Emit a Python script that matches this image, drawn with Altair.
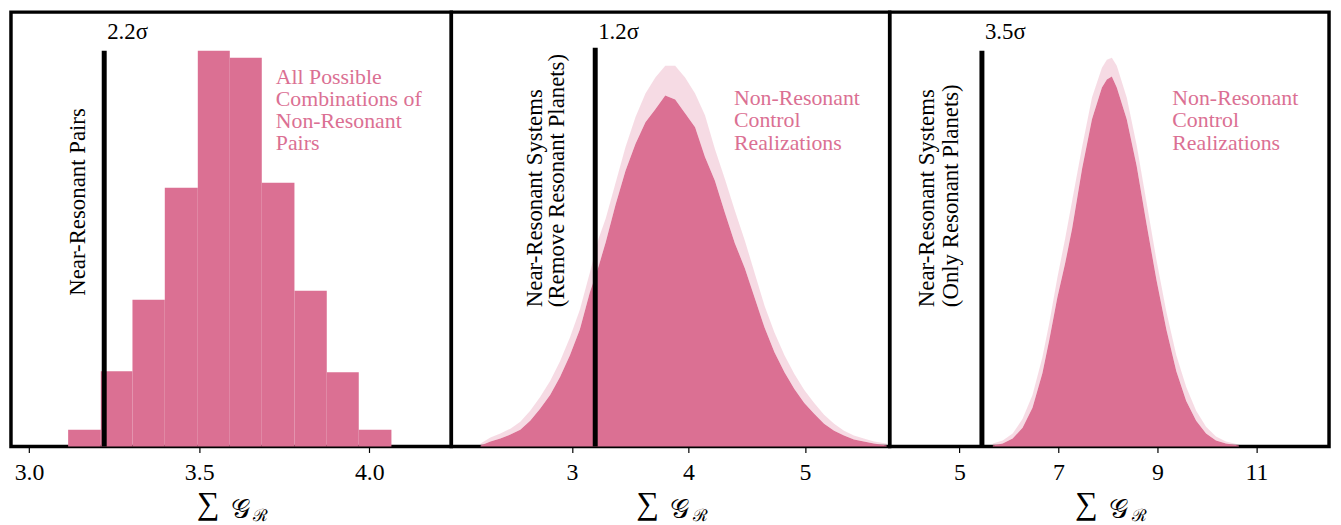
import altair as alt
import pandas as pd

PINK = "#DB7093"
FONT = "Liberation Serif"
H = 438

# ---------------- data ----------------
# Panel 1: all possible combinations of non-resonant pairs (histogram, 10 bins)
p1_bin_start = [3.115, 3.211, 3.304, 3.399, 3.496, 3.590, 3.684, 3.780, 3.875, 3.969]
p1_bin_end = [3.211, 3.304, 3.399, 3.496, 3.590, 3.684, 3.780, 3.875, 3.969, 4.065]
p1_counts = [17, 76, 148, 261, 399, 392, 266, 157, 75, 17]

# Panel 2: non-resonant control realizations (remove resonant planets)
p2_x = [2.216, 2.301, 2.386, 2.472, 2.557, 2.642, 2.727, 2.813, 2.898, 2.983,
        3.068, 3.153, 3.230, 3.290, 3.375, 3.460, 3.545, 3.631, 3.716, 3.801,
        3.886, 3.971, 4.057, 4.142, 4.227, 4.312, 4.398, 4.483, 4.568, 4.653,
        4.738, 4.824, 4.909, 4.994, 5.079, 5.164, 5.250, 5.335, 5.420, 5.505,
        5.591, 5.701]
p2_h = [1, 5, 8, 12, 17, 26, 38, 52, 70, 92,
        118, 155, 182, 206, 244, 278, 305, 327, 340, 354,
        350, 336, 322, 292, 268, 236, 205, 180, 150, 120,
        95, 75, 58, 44, 33, 23, 16, 11, 7, 5,
        3, 1]
p2_spike = [3, 9, 13, 18, 25, 36, 50, 66, 86, 110,
            138, 175, 210, 230, 266, 302, 332, 356, 372, 384,
            384, 372, 356, 334, 300, 270, 238, 208, 175, 142,
            115, 92, 73, 57, 44, 32, 23, 16, 11, 8,
            5, 3]

# Panel 3: non-resonant control realizations (only resonant planets)
p3_x = [5.675, 5.876, 6.076, 6.277, 6.477, 6.677, 6.818, 6.978, 7.138, 7.279,
        7.479, 7.679, 7.880, 7.980, 8.080, 8.180, 8.381, 8.581, 8.782, 8.982,
        9.182, 9.383, 9.583, 9.784, 9.984, 10.184, 10.385, 10.646]
p3_h = [1, 3, 8, 19, 39, 74, 108, 150, 185, 220,
        280, 330, 362, 370, 373, 362, 330, 283, 224, 168,
        118, 76, 46, 26, 13, 6, 3, 1]
p3_spike = [3, 6, 13, 28, 52, 90, 125, 170, 210, 248,
            302, 352, 382, 390, 392, 384, 352, 304, 246, 188,
            136, 92, 60, 36, 20, 10, 5, 2]

# observed (near-resonant) values and significance
obs_value = [3.221, 3.200, 5.455]
obs_top = [399, 402, 399]
sigma_labels = ["2.2\u03c3", "1.2\u03c3", "3.5\u03c3"]

x_domains = [[2.947, 4.241], [1.965, 5.727], [3.591, 12.469]]
x_ticks = [[3.0, 3.5, 4.0], [3, 4, 5], [5, 7, 9, 11]]
x_formats = [".1f", "d", "d"]
widths = [444, 442, 443]

obs_texts = [["Near-Resonant Pairs"],
             ["Near-Resonant Systems", "(Remove Resonant Planets)"],
             ["Near-Resonant Systems", "(Only Resonant Planets)"]]
pink_texts = [["All Possible", "Combinations of", "Non-Resonant", "Pairs"],
              ["Non-Resonant", "Control", "Realizations"],
              ["Non-Resonant", "Control", "Realizations"]]

# ---------------- helpers ----------------
one = pd.DataFrame({"a": [0]})
ys = alt.Scale(domain=[0, H], nice=False, zero=True)
TS = 23  # rotated annotation font size
PS = 22  # pink annotation font size


def txt(s, x, y, size, color="black", align="left", baseline="alphabetic",
        angle=None, style=None, font=FONT):
    kw = dict(text=s, align=align, baseline=baseline, fontSize=size,
              font=font, color=color)
    if angle is not None:
        kw["angle"] = angle
    if style is not None:
        kw["fontStyle"] = style
    return alt.Chart(one).mark_text(**kw).encode(x=alt.value(x), y=alt.value(y))


def make_panel(i, hist_layers):
    w = widths[i]
    xs = alt.Scale(domain=x_domains[i], nice=False, zero=False)
    axis = alt.Axis(values=x_ticks[i], format=x_formats[i], title=None)
    layers = [lay(xs, axis) for lay in hist_layers]

    line_df = pd.DataFrame({"x": [obs_value[i]], "top": [obs_top[i]],
                            "label": [sigma_labels[i]]})
    rule = alt.Chart(line_df).mark_rule(color="black", strokeWidth=5).encode(
        x=alt.X("x:Q", scale=xs, axis=axis),
        y=alt.Y("top:Q", scale=ys, axis=None),
        y2=alt.datum(0),
    )
    sig = alt.Chart(line_df).mark_text(
        align="left", baseline="alphabetic", dx=3, fontSize=23, font=FONT,
        color="black").encode(
        x=alt.X("x:Q", scale=xs, axis=axis), y=alt.value(27), text="label:N")
    layers += [rule, sig]

    # rotated black labels
    rot = obs_texts[i]
    if i == 0:
        layers.append(txt(rot[0], 75, 286, TS, angle=270))
    elif i == 1:
        layers.append(txt(rot[0], 91, 297.5, TS, angle=270))
        layers.append(txt(rot[1], 114, 297.5, TS, angle=270))
    else:
        layers.append(txt(rot[0], 45, 297.5, TS, angle=270))
        layers.append(txt(rot[1], 69, 297.5, TS, angle=270))

    # pink labels
    px = [267, 285, 285][i]
    py0 = [72.5, 94, 94][i]
    for k, s in enumerate(pink_texts[i]):
        layers.append(txt(s, px, py0 + 22.3 * k, PS, color=PINK))

    # x-axis title: sum G_R
    c = w / 2
    layers.append(txt("\u2211", c - 23, 506, 32, align="center"))
    layers.append(txt("\U0001D4A2", c + 9, 510, 27, align="center"))
    layers.append(txt("\u211B", c + 30, 513, 17, align="center"))

    return alt.layer(*layers).properties(width=w, height=H)


# panel 1 layers
df1 = pd.DataFrame({"x0": p1_bin_start, "x1": p1_bin_end, "h": p1_counts})


def p1_hist(xs, axis):
    return alt.Chart(df1).mark_rect(color=PINK).encode(
        x=alt.X("x0:Q", scale=xs, axis=axis),
        x2="x1:Q",
        y=alt.Y("h:Q", scale=ys, axis=None),
        y2=alt.datum(0),
    )


def area_layers(x, h, spike):
    df = pd.DataFrame({"x": x, "h": h, "spike": spike})

    def solid(xs, axis):
        return alt.Chart(df).mark_area(color=PINK, interpolate="linear").encode(
            x=alt.X("x:Q", scale=xs, axis=axis),
            y=alt.Y("h:Q", scale=ys, axis=None, stack=None),
        )

    def fuzz(xs, axis):
        return alt.Chart(df).mark_area(color=PINK, opacity=0.25,
                                       interpolate="linear").encode(
            x=alt.X("x:Q", scale=xs, axis=axis),
            y=alt.Y("spike:Q", scale=ys, axis=None, stack=None),
            y2="h:Q",
        )
    return [solid, fuzz]


panel1 = make_panel(0, [p1_hist])
panel2 = make_panel(1, area_layers(p2_x, p2_h, p2_spike))
panel3 = make_panel(2, area_layers(p3_x, p3_h, p3_spike))

chart = alt.hconcat(panel1, panel2, panel3, spacing=0, bounds="flush").properties(
    padding={"left": 1, "top": 0, "right": 2, "bottom": 0}
).configure_view(
    stroke="black", strokeWidth=3.5
).configure_axisX(
    domain=False, grid=False, ticks=True, tickColor="black", tickSize=6,
    tickWidth=1.2, labelFont=FONT, labelFontSize=24, labelColor="black",
    labelPadding=8
)

chart.save("out.html", embed_options={"renderer": "svg", "actions": False})
